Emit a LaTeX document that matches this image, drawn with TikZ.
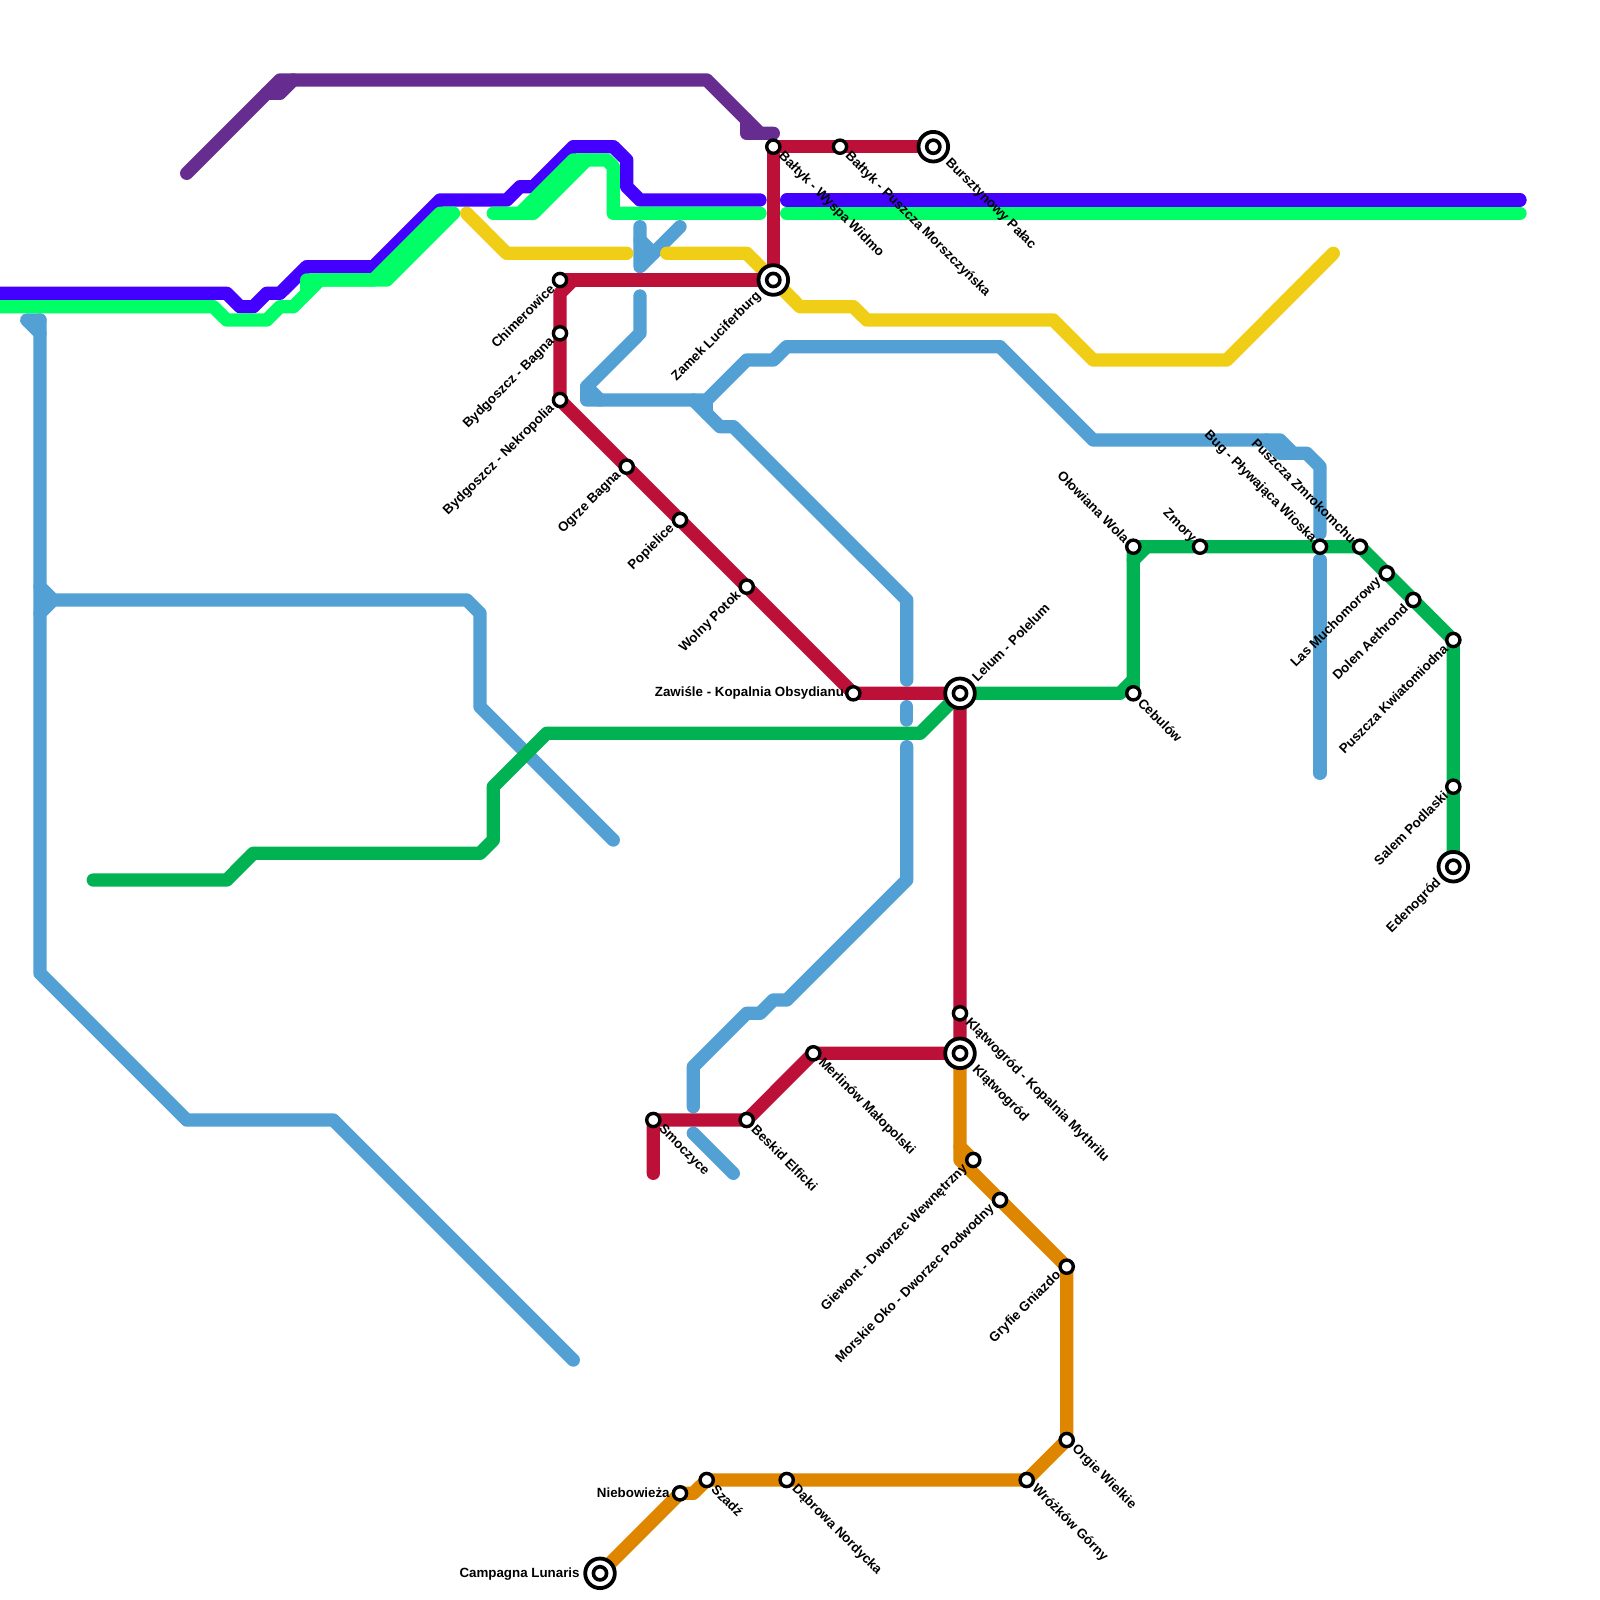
\documentclass[tikz,border=0pt]{standalone}
\usepackage{fontspec}
\setmainfont{Liberation Sans}
\pgfdeclarelayer{lines}
\pgfsetlayers{lines,main}
\definecolor{cblue}{HTML}{53A0D5}
\definecolor{cyellow}{HTML}{F0CE15}
\definecolor{cpurple}{HTML}{662C90}
\definecolor{cviolet}{HTML}{4400FF}
\definecolor{clime}{HTML}{00FF66}
\definecolor{cgreen}{HTML}{00B251}
\definecolor{corange}{HTML}{DF8600}
\definecolor{cred}{HTML}{BD1038}
\tikzset{
  route/.style={line width=6.67pt,line cap=round,line join=round},
  rblue/.style={route,draw=cblue},
  ryellow/.style={route,draw=cyellow},
  rpurple/.style={route,draw=cpurple},
  rviolet/.style={route,draw=cviolet},
  rlime/.style={route,draw=clime},
  rgreen/.style={route,draw=cgreen},
  rorange/.style={route,draw=corange},
  rred/.style={route,draw=cred},
  stn/.style={circle,draw=black,fill=white,line width=1.7pt,minimum size=6.6pt,inner sep=0pt},
  hub/.style={circle,draw=black,fill=white,line width=1.9pt,minimum size=14.8pt,inner sep=0pt},
  hubin/.style={circle,draw=black,fill=white,line width=1.8pt,minimum size=6.6pt,inner sep=0pt},
  lbl/.style={inner sep=0pt,text=black,font=\bfseries\fontsize{6.67}{8}\selectfont},
  rd/.style={lbl,anchor=west,rotate=-45},
  ld/.style={lbl,anchor=east,rotate=45},
  lu/.style={lbl,anchor=east,rotate=-45},
  ru/.style={lbl,anchor=west,rotate=45},
  lf/.style={lbl,anchor=east},
}
\newcommand\lab[4]{\node[#1] (#2-l) at ([shift={(#3)}]#2.center) {#4};}
\newcommand\stn[3]{\node[stn] (#1) at (#2,#3) {};}
\newcommand\hubn[3]{\node[hub] (#1) at (#2,#3) {}; \node[hubin] (#1-c) at (#2,#3) {};}
\begin{document}
\begin{tikzpicture}[x=0.5pt,y=-0.5pt]
\useasboundingbox (0,0) rectangle (1600,1600);
% stations
\stn{chim}{560}{280} \lab{ld}{chim}{-7.5,6.5}{Chimerowice}
\stn{bagna}{560}{333.3} \lab{ld}{bagna}{-7.5,6.5}{Bydgoszcz - Bagna}
\stn{nekro}{560}{400} \lab{ld}{nekro}{-7.5,6.5}{Bydgoszcz - Nekropolia}
\stn{ogrze}{626.7}{466.7} \lab{ld}{ogrze}{-7.5,6.5}{Ogrze Bagna}
\stn{popi}{680}{520} \lab{ld}{popi}{-7.5,6.5}{Popielice}
\stn{wolny}{746.7}{586.7} \lab{ld}{wolny}{-7.5,6.5}{Wolny Potok}
\hubn{zamek}{773.3}{280} \lab{ld}{zamek}{-14,14}{Zamek Luciferburg}
\stn{wyspa}{773.3}{146.7} \lab{rd}{wyspa}{7,7}{Bałtyk - Wyspa Widmo}
\stn{morsz}{840}{146.7} \lab{rd}{morsz}{7,7}{Bałtyk - Puszcza Morszczyńska}
\hubn{burszt}{933.3}{146.7} \lab{rd}{burszt}{14,14}{Bursztynowy Pałac}
\stn{zawisle}{853.3}{693.3} \lab{lf}{zawisle}{-9,0}{Zawiśle - Kopalnia Obsydianu}
\hubn{lelum}{960}{693.3} \lab{ru}{lelum}{14,-14}{Lelum - Polelum}
\stn{cebul}{1133.3}{693.3} \lab{rd}{cebul}{7,7}{Cebulów}
\stn{olow}{1133.3}{546.7} \lab{lu}{olow}{-6,-6}{Ołowiana Wola}
\stn{zmory}{1200}{546.7} \lab{lu}{zmory}{-6,-6}{Zmory}
\stn{bug}{1320}{546.7} \lab{lu}{bug}{-6,-6}{Bug - Pływająca Wioska}
\stn{zmrok}{1360}{546.7} \lab{lu}{zmrok}{-6,-6}{Puszcza Zmrokomchu}
\stn{mucho}{1386.7}{573.3} \lab{ld}{mucho}{-7.5,6.5}{Las Muchomorowy}
\stn{dolen}{1413.3}{600} \lab{ld}{dolen}{-7.5,6.5}{Dolen Aethrond}
\stn{kwiat}{1453.3}{640} \lab{ld}{kwiat}{-7.5,6.5}{Puszcza Kwiatomiodna}
\stn{salem}{1453.3}{786.7} \lab{ld}{salem}{-7.5,6.5}{Salem Podlaski}
\hubn{eden}{1453.3}{866.7} \lab{ld}{eden}{-14,14}{Edenogród}
\stn{mythr}{960}{1013.3} \lab{rd}{mythr}{7,7}{Klątwogród - Kopalnia Mythrilu}
\hubn{klat}{960}{1053.3} \lab{rd}{klat}{14,14}{Klątwogród}
\stn{merl}{813.3}{1053.3} \lab{rd}{merl}{7,7}{Merlinów Małopolski}
\stn{beskid}{746.7}{1120} \lab{rd}{beskid}{7,7}{Beskid Elficki}
\stn{smocz}{653.3}{1120} \lab{rd}{smocz}{7,7}{Smoczyce}
\stn{giew}{973.3}{1160} \lab{ld}{giew}{-7.5,6.5}{Giewont - Dworzec Wewnętrzny}
\stn{morsk}{1000}{1200} \lab{ld}{morsk}{-7.5,6.5}{Morskie Oko - Dworzec Podwodny}
\stn{gryf}{1066.7}{1266.7} \lab{ld}{gryf}{-7.5,6.5}{Gryfie Gniazdo}
\stn{orgie}{1066.7}{1440} \lab{rd}{orgie}{7,7}{Orgie Wielkie}
\stn{wroz}{1026.7}{1480} \lab{rd}{wroz}{7,7}{Wróżków Górny}
\stn{dabr}{786.7}{1480} \lab{rd}{dabr}{7,7}{Dąbrowa Nordycka}
\stn{szadz}{706.7}{1480} \lab{rd}{szadz}{7,7}{Szadź}
\stn{niebo}{680}{1493.3} \lab{lf}{niebo}{-10,-1}{Niebowieża}
\hubn{camp}{600}{1573.3} \lab{lf}{camp}{-20,1}{Campagna Lunaris}
% free ends of the routes
\coordinate (smoczend) at (653.3,1173.3);
\coordinate (greenend) at (93.3,880);
\begin{pgfonlayer}{lines}
% light blue
\draw[rblue] (40,320) -- (26.7,320) -- (40,333.3);
\draw[rblue] (40,320) -- (40,973.3) -- (186.7,1120) -- (333.3,1120) -- (573.3,1360);
\draw[rblue] (40,586.7) -- (53.3,600) -- (466.7,600) -- (480,613.3) -- (480,706.7) -- (613.3,840);
\draw[rblue] (40,613.3) -- (53.3,600);
\draw[rblue] (640,226.7) -- (640,266.7) -- (680,226.7);
\draw[rblue] (640,240) -- (653.3,253.3);
\draw[rblue] (640,296) -- (640,333.3) -- (586.7,386.7) -- (586.7,400) -- (706.7,400) -- (746.7,360) -- (773.3,360) -- (786.7,346.7) -- (1000,346.7) -- (1093.3,440) -- (1280,440) -- (1293.3,453.3) -- (1306.7,453.3) -- (1320,466.7) -- (1320,533.3);
\draw[rblue] (586.7,386.7) -- (600,400);
\draw[rblue] (1266.7,440) -- (1280,453.3) -- (1293.3,453.3);
\draw[rblue] (706.7,400) -- (706.7,413.3);
\draw[rblue] (693.3,400) -- (720,426.7) -- (733.3,426.7) -- (906.7,600) -- (906.7,680);
\draw[rblue] (906.7,706.7) -- (906.7,720);
\draw[rblue] (906.7,746.7) -- (906.7,880) -- (786.7,1000) -- (773.3,1000) -- (760,1013.3) -- (746.7,1013.3) -- (693.3,1066.7) -- (693.3,1106.7);
\draw[rblue] (693.3,1133.3) -- (733.3,1173.3);
\draw[rblue] (1320,560) -- (1320,773.3);
% yellow
\draw[ryellow] (466.7,213.3) -- (506.7,253.3) -- (626.7,253.3);
\draw[ryellow] (666.7,253.3) -- (746.7,253.3) -- (800,306.7) -- (853.3,306.7) -- (866.7,320) -- (1053.3,320) -- (1093.3,360) -- (1226.7,360) -- (1333.3,253.3);
% purple
\draw[rpurple] (186.7,173.3) -- (280,80) -- (706.7,80) -- (760,133.3) -- (773.3,133.3);
\draw[rpurple] (746.7,120) -- (746.7,133.3) -- (760,133.3);
\draw[rpurple] (266.7,93.3) -- (280,93.3) -- (293.3,80);
% violet
\draw[rviolet] (-10,293.3) -- (226.7,293.3) -- (240,306.7) -- (253.3,306.7) -- (266.7,293.3) -- (280,293.3) -- (306.7,266.7) -- (373.3,266.7) -- (440,200) -- (506.7,200) -- (520,186.7) -- (533.3,186.7) -- (573.3,146.7) -- (613.3,146.7) -- (626.7,160) -- (626.7,186.7) -- (640,200) -- (760,200);
\draw[rviolet] (786.7,200) -- (1520,200);
% lime
\draw[rlime] (-10,306.7) -- (213.3,306.7) -- (226.7,320) -- (266.7,320) -- (280,306.7) -- (293.3,306.7) -- (320,280) -- (386.7,280) -- (453.3,213.3);
\draw[rlime] (306.7,293.3) -- (306.7,280) -- (373.3,280) -- (440,213.3) -- (453.3,213.3);
\draw[rlime] (493.3,213.3) -- (520,213.3) -- (573.3,160) -- (606.7,160) -- (613.3,166.7) -- (613.3,213.3) -- (760,213.3);
\draw[rlime] (520,213.3) -- (533.3,213.3) -- (586.7,160);
\draw[rlime] (786.7,213.3) -- (1520,213.3);
% green
\draw[rgreen] (greenend) -- (226.7,880) -- (253.3,853.3) -- (480,853.3) -- (493.3,840) -- (493.3,786.7) -- (546.7,733.3) -- (920,733.3) -- (lelum.center);
\draw[rgreen] (lelum.center) -- (1120,693.3) -- (1133.3,680);
\draw[rgreen] (cebul.center) -- (olow.center) -- (zmory.center) -- (bug.center) -- (zmrok.center) -- (mucho.center) -- (dolen.center) -- (kwiat.center) -- (salem.center) -- (eden.center);
\draw[rgreen] (1133.3,560) -- (1146.7,546.7);
% orange
\draw[rorange] (klat.center) -- (960,1146.7) -- (giew.center);
\draw[rorange] (960,1146.7) -- (960,1160) -- (morsk.center) -- (gryf.center) -- (orgie.center) -- (wroz.center) -- (dabr.center) -- (szadz.center) -- (693.3,1493.3) -- (niebo.center) -- (camp.center);
% red
\draw[rred] (burszt.center) -- (morsz.center) -- (wyspa.center) -- (zamek.center) -- (chim.center);
\draw[rred] (573.3,280) -- (560,293.3) -- (bagna.center) -- (nekro.center) -- (ogrze.center) -- (popi.center) -- (wolny.center) -- (zawisle.center) -- (lelum.center) -- (mythr.center) -- (klat.center) -- (merl.center) -- (beskid.center) -- (smocz.center) -- (smoczend);
\end{pgfonlayer}
\end{tikzpicture}
\end{document}
